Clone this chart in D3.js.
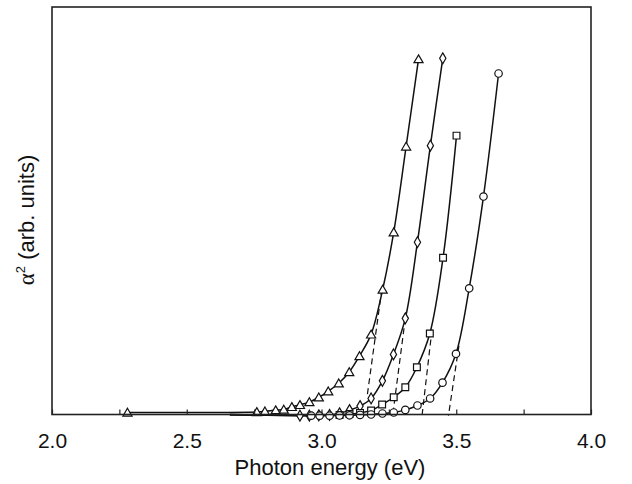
<!DOCTYPE html>
<html>
<head>
<meta charset="utf-8">
<script src="https://cdn.jsdelivr.net/npm/d3@7"></script>
<style>
  body { margin: 0; background: #fff; }
  text { font-family: "Liberation Sans", Arial, Helvetica, sans-serif; fill: #111; }
</style>
</head>
<body>
<div id="chart"></div>
<script>
// photon energy (eV) and alpha^2 (arb. units)
var triEnergy = [2.28, 2.76, 2.79, 2.83, 2.86, 2.89, 2.92, 2.955, 2.99, 3.025, 3.064, 3.103, 3.141, 3.184, 3.227, 3.268, 3.314, 3.36];
var triAlpha2 = [0.8, 0.95, 1.1, 1.4, 1.55, 2.2, 2.7, 3.4, 4.6, 6.1, 8.1, 10.9, 14.9, 20.3, 31.5, 45.8, 67.2, 89.0];

var diaEnergy = [2.66, 2.92, 2.955, 2.99, 3.03, 3.067, 3.104, 3.143, 3.184, 3.226, 3.267, 3.311, 3.356, 3.404, 3.45];
var diaAlpha2 = [0.3, 0, 0, 0.1, 0.2, 0.6, 1.4, 2.4, 4.3, 8.7, 15.3, 24.3, 43.3, 67.4, 89.2];

var sqEnergy = [2.66, 3.067, 3.104, 3.143, 3.184, 3.225, 3.268, 3.311, 3.354, 3.402, 3.451, 3.501];
var sqAlpha2 = [0.3, 0.2, 0.4, 0.7, 1.3, 2.8, 4.6, 7.1, 12.1, 20.5, 39.4, 69.9];

var circEnergy = [2.66, 2.962, 2.993, 3.03, 3.067, 3.104, 3.143, 3.184, 3.226, 3.268, 3.311, 3.356, 3.403, 3.449, 3.499, 3.548, 3.601, 3.657];
var circAlpha2 = [0.2, 0, 0, 0, 0.05, 0.1, 0.2, 0.3, 0.55, 0.8, 1.45, 2.55, 4.3, 8.25, 15.45, 31.8, 54.7, 85.4];

// dashed extrapolations to the axis: [E1, a1, E2, a2]
var triFit = [3.224, 31.6, 3.169, 4.7];
var diaFit = [3.311, 24.3, 3.264, 0];
var sqFit = [3.41, 21.5, 3.373, 0];
var circFit = [3.51, 17.5, 3.471, 0];

var xTickLabels = [2.0, 2.5, 3.0, 3.5, 4.0];
var xMinorTicks = [2.0, 2.25, 2.5, 2.75, 3.0, 3.25, 3.5, 3.75, 4.0];

function drawChart() {
    var width = 632, height = 484;
    var mLeft = 52, mRight = 591, mTop = 7, mBottom = 414.5;

    var svg = d3.select("#chart").append("svg")
        .attr("width", width)
        .attr("height", height);

    var x = d3.scaleLinear().domain([2, 4]).range([mLeft, mRight]);
    var y = d3.scaleLinear().domain([0.3, 102]).range([mBottom, mTop]);

    function pts(es, vs) {
        return es.map((e, i) => ({ e: e, v: vs[i] }));
    }

    // first point of the three right-hand curves sits in the low-energy tail, no symbol shown there
    var series = [
        { data: pts(triEnergy, triAlpha2), fit: triFit, sym: d3.symbolTriangle, size: 36, dy: 1, from: 0 },
        { data: pts(diaEnergy, diaAlpha2), fit: diaFit, sym: d3.symbolDiamond, size: 34, dy: 0, from: 1 },
        { data: pts(sqEnergy, sqAlpha2), fit: sqFit, sym: d3.symbolSquare, size: 46, dy: 0, from: 1 },
        { data: pts(circEnergy, circAlpha2), fit: circFit, sym: d3.symbolCircle, size: 44, dy: 0, from: 1 }
    ];

    var line = d3.line()
        .x(d => x(d.e))
        .y(d => y(d.v))
        .curve(d3.curveCatmullRom.alpha(0.5));

    // curves
    series.forEach(s => {
        svg.append("path")
            .datum(s.data)
            .attr("d", line)
            .attr("fill", "none")
            .attr("stroke", "#111")
            .attr("stroke-width", 1.5);
    });

    // dashed tangent lines
    series.forEach(s => {
        svg.append("line")
            .attr("x1", x(s.fit[0]))
            .attr("y1", y(s.fit[1]))
            .attr("x2", x(s.fit[2]))
            .attr("y2", y(s.fit[3]))
            .attr("stroke", "#111")
            .attr("stroke-width", 1.2)
            .attr("stroke-dasharray", "6,4");
    });

    // markers
    series.forEach(s => {
        svg.append("g")
            .selectAll("path")
            .data(s.data.slice(s.from))
            .join("path")
            .attr("transform", d => "translate(" + x(d.e) + "," + (y(d.v) + s.dy) + ")")
            .attr("d", d3.symbol().type(s.sym).size(s.size))
            .attr("fill", "#fff")
            .attr("stroke", "#111")
            .attr("stroke-width", 1.2);
    });

    // frame
    svg.append("rect")
        .attr("x", mLeft)
        .attr("y", mTop)
        .attr("width", mRight - mLeft)
        .attr("height", mBottom - mTop)
        .attr("fill", "none")
        .attr("stroke", "#222")
        .attr("stroke-width", 1.6);

    // inward minor ticks
    var minorAxis = d3.axisBottom(x)
        .tickValues(xMinorTicks)
        .tickSizeInner(-5)
        .tickSizeOuter(0)
        .tickFormat("");
    svg.append("g")
        .attr("transform", "translate(0," + mBottom + ")")
        .call(minorAxis)
        .call(g => g.select(".domain").remove())
        .call(g => g.selectAll("line").attr("stroke", "#222").attr("stroke-width", 1.2));

    // tick labels
    var labelAxis = d3.axisBottom(x)
        .tickValues(xTickLabels)
        .tickSize(0)
        .tickPadding(19)
        .tickFormat(d3.format(".1f"));
    svg.append("g")
        .attr("transform", "translate(0," + mBottom + ")")
        .call(labelAxis)
        .call(g => g.select(".domain").remove())
        .call(g => g.selectAll("text")
            .attr("font-size", 21)
            .attr("font-family", "Liberation Sans, Arial, sans-serif")
            .attr("fill", "#111"));

    svg.append("text")
        .attr("x", 330)
        .attr("y", 475)
        .attr("text-anchor", "middle")
        .style("font-size", "22px")
        .text("Photon energy (eV)");

    var ylab = svg.append("text")
        .attr("transform", "translate(34,220) rotate(-90)")
        .attr("text-anchor", "middle")
        .style("font-size", "22px");
    ylab.append("tspan")
        .style("font-family", "Liberation Serif, Times New Roman, serif")
        .style("font-size", "23px")
        .text("\u03b1");
    ylab.append("tspan")
        .attr("dy", -9)
        .style("font-size", "13px")
        .text("2");
    ylab.append("tspan")
        .attr("dy", 9)
        .text(" (arb. units)");
}

drawChart();
</script>
</body>
</html>
